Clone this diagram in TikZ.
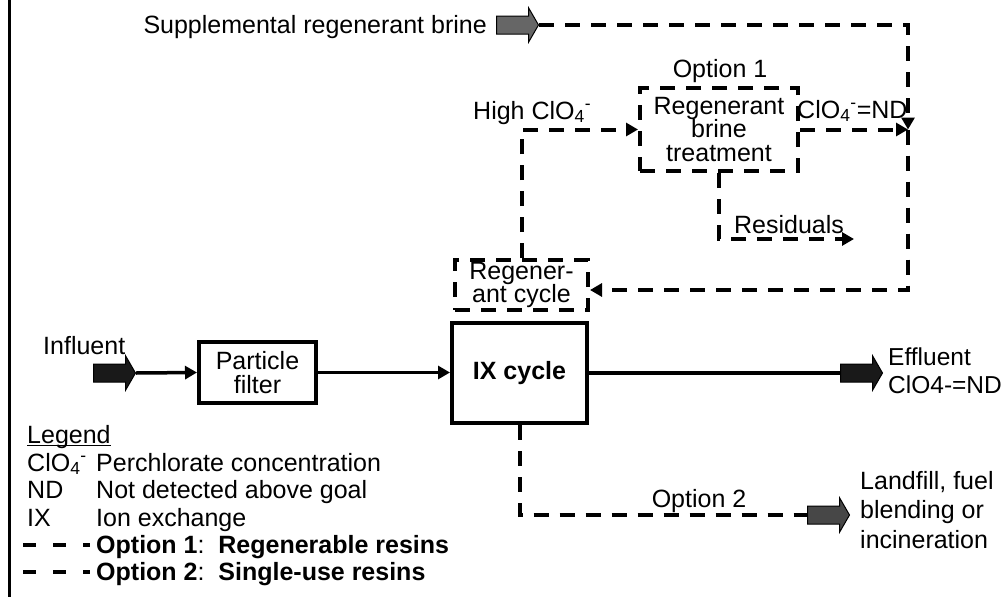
\documentclass[tikz,border=0pt]{standalone}
\usepackage{fontspec}
\setmainfont{Liberation Sans}
\usetikzlibrary{arrows.meta,shapes.arrows}

\newcommand{\perchl}{ClO\textsubscript{4}\textsuperscript{-}}

\begin{document}
\begin{tikzpicture}[x=1pt,y=-1pt,
    every node/.style={inner sep=0pt,font=\fontsize{25}{23.5}\selectfont},
    unit/.style={draw,line width=4pt,align=center},
    optbox/.style={draw,line width=4pt,dash pattern=on 15pt off 11pt,align=center},
    flow/.style={line width=3.5pt,-{Triangle[length=12pt,width=13pt]}},
    optline/.style={line width=4pt,dash pattern=on 15pt off 11pt},
    optflow/.style={optline,-{Triangle[length=12pt,width=13pt]}},
    bigarrow/.style={single arrow,draw,line width=1pt,anchor=tail,inner xsep=0pt,inner ysep=8.5pt,
      minimum height=42pt,single arrow head extend=8pt,single arrow tip angle=120},
    legdash/.style={line width=3.5pt,dash pattern=on 13pt off 17pt}]
    \useasboundingbox (0,0) rectangle (1006,597);
    \draw[line width=3pt] (9.5,0) -- (9.5,597);

    % process units
    \node[unit,minimum width=117pt,minimum height=61pt] (filter) at (257.5,372.5) {Particle\\filter};
    \node[unit,minimum width=135pt,minimum height=100pt,font=\fontsize{25}{23.5}\selectfont\bfseries] (ix) at (519.5,373) {IX cycle};
    \node[optbox,minimum width=133pt,minimum height=50pt] (regen) at (521.5,285) {Regener-\\ant cycle};
    \node[optbox,minimum width=158pt,minimum height=83pt] (treat) at (719,129.5) {Regenerant\\brine\\treatment};

    % block arrows
    \node[bigarrow,fill=black!90] (inarr) at (93,373) {};
    \node[bigarrow,fill=black!90] (effarr) at (840,373) {};
    \node[bigarrow,fill=black!60] (suparr) at (496,25) {};
    \node[bigarrow,fill=black!72] (landarr) at (807,515) {};

    \coordinate (sink) at (908,129.5);
    \coordinate (ret) at (908,290);
    \coordinate (resid) at (854,239);

    % main flow
    \draw[flow] (inarr.tip) -- (filter.west);
    \draw[flow] (filter.east) -- (filter.east -| ix.west);
    \draw[line width=3.5pt] (ix.east) -- (effarr.tail);

    % option 1
    \draw[optflow] (suparr.tip) -| (sink);
    \draw[optflow] (treat.east) -- (sink);
    \draw[optflow] (sink) -- (ret) -- (ret -| regen.east);
    \draw[optflow] (regen.north) |- (treat.west);
    \draw[optflow] (treat.south) |- (resid);

    % option 2
    \draw[optline] (ix.south) |- (landarr.tail);

    % labels
    \node[anchor=base east] (suptxt) at (487,33) {Supplemental regenerant brine};
    \node[anchor=base] (opt1txt) at (720,77) {Option 1};
    \node[anchor=base west] (hightxt) at (473,119) {High \perchl};
    \node[anchor=base west] (ndtxt) at (797,118) {\perchl=ND};
    \node[anchor=base] (restxt) at (789,233) {Residuals};
    \node[anchor=base west] (intxt) at (43,354) {Influent};
    \node[anchor=base west,align=left,font=\fontsize{24.5}{28}\selectfont] (efftxt) at (888,393) {Effluent\\ClO4-=ND};
    \node[anchor=base] (opt2txt) at (699,507) {Option 2};
    \node[anchor=base west,align=left,font=\fontsize{25}{29.5}\selectfont] (landtxt) at (860,548) {Landfill, fuel\\blending or\\incineration};

    % legend
    \node[anchor=base west] (leghead) at (27,443) {Legend};
    \draw[line width=1.5pt] ([yshift=-2.5pt]leghead.base west) -- ([yshift=-2.5pt]leghead.base east);
    \node[anchor=base west] (legclo) at (27,471) {\perchl};
    \node[anchor=base west] (legclotxt) at (96,471) {Perchlorate concentration};
    \node[anchor=base west] (legnd) at (27,498) {ND};
    \node[anchor=base west] (legndtxt) at (96,498) {Not detected above goal};
    \node[anchor=base west] (legix) at (27,526) {IX};
    \node[anchor=base west] (legixtxt) at (96,526) {Ion exchange};
    \draw[legdash] (23,545) -- (90,545);
    \node[anchor=base west] (legopt1) at (96,553) {\textbf{Option 1}:\ \ \textbf{Regenerable resins}};
    \draw[legdash] (23,572) -- (90,572);
    \node[anchor=base west] (legopt2) at (96,580) {\textbf{Option 2}:\ \ \textbf{Single-use resins}};
\end{tikzpicture}
\end{document}
